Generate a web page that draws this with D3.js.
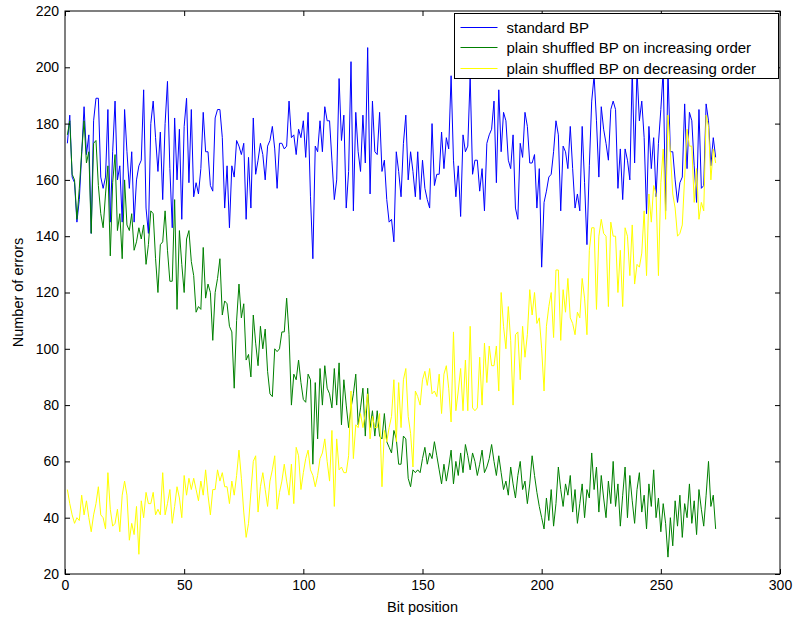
<!DOCTYPE html>
<html>
<head>
<meta charset="utf-8">
<script src="https://cdn.jsdelivr.net/npm/d3@7"></script>
<style>
  html, body { margin: 0; padding: 0; background: #fff; }
  svg { display: block; }
  text { font-family: "Liberation Sans", Arial, Helvetica, sans-serif; }
</style>
</head>
<body>
<svg id="chart" width="795" height="622"></svg>
<script>
// Error counts per bit position (positions 1..273)
const standardBP = [
  173,183,161,159,145,153,169,186,169,176,
  141,181,189,189,161,157,161,185,145,170,
  188,160,165,145,185,170,157,170,145,160,
  165,167,192,150,141,180,188,175,163,177,
  153,180,195,164,143,182,160,178,146,179,
  189,159,185,154,159,155,164,184,170,170,
  158,156,182,185,185,175,150,165,143,165,
  161,174,172,169,173,146,168,150,182,162,
  167,173,169,160,172,174,179,171,157,173,
  173,171,172,188,175,176,169,178,175,181,
  168,184,154,132,172,170,181,170,186,181,
  181,167,153,160,196,174,183,150,163,202,
  149,184,170,163,183,166,207,155,188,170,
  169,184,163,167,153,145,146,138,170,163,
  154,173,183,160,170,163,154,170,153,167,
  157,153,150,180,158,162,162,177,164,175,
  171,197,167,154,165,147,176,170,172,197,
  162,167,167,156,164,149,173,176,178,188,
  159,192,170,184,181,167,164,176,150,146,
  173,168,184,179,166,166,169,150,164,129,
  152,156,161,162,170,181,176,149,172,170,
  164,179,164,150,155,149,179,159,137,165,
  188,197,181,161,186,178,173,167,185,188,
  185,157,171,153,171,167,160,199,166,199,
  181,188,175,148,179,164,175,154,173,185,
  199,149,199,170,170,160,152,159,161,187,
  164,184,181,165,152,185,157,158,187,181,
  165,175,168
];

const shuffledIncreasing = [
  176,181,162,160,146,157,170,181,166,170,
  141,173,174,158,148,143,155,165,133,159,
  169,142,148,132,160,144,142,148,135,138,
  143,139,144,130,137,149,148,132,120,137,
  138,149,135,124,124,153,114,142,130,120,
  139,142,131,126,113,115,114,136,118,123,
  120,103,120,125,132,112,117,116,108,106,
  86,110,123,111,116,96,98,90,112,102,
  94,108,100,107,92,84,83,100,99,100,
  106,106,118,105,80,91,89,96,88,82,
  81,91,89,59,88,68,93,80,94,86,
  84,79,93,80,95,73,89,80,72,79,
  84,91,73,79,86,69,86,72,78,69,
  78,69,68,77,67,65,63,71,68,59,
  59,69,68,54,51,57,56,57,56,61,
  65,59,63,61,67,62,57,52,59,53,
  58,64,52,60,55,63,56,66,62,57,
  63,60,55,59,64,56,58,61,66,60,
  55,62,56,50,53,48,58,52,47,55,
  60,50,53,45,52,62,55,49,44,40,
  36,47,39,50,37,45,58,50,44,52,
  48,55,42,50,38,45,52,40,50,47,
  63,50,58,42,55,47,40,53,45,60,
  44,52,37,48,58,40,55,46,38,50,
  56,42,48,36,52,44,57,40,47,35,
  45,38,26,40,30,46,37,48,33,45,
  40,52,38,46,34,50,43,37,48,60,
  44,48,36
];

const shuffledDecreasing = [
  50,45,41,38,40,39,48,41,46,40,
  35,41,45,51,41,40,36,56,43,37,
  38,43,35,48,53,48,32,38,34,44,
  27,46,40,49,45,45,49,41,43,41,
  56,41,45,50,38,44,51,47,40,55,
  48,54,50,54,50,46,53,48,57,48,
  41,50,50,57,53,56,51,51,45,53,
  48,55,64,54,42,33,38,49,60,62,
  42,51,56,50,44,53,57,62,43,49,
  53,59,53,48,59,45,65,62,50,56,
  61,64,57,55,51,55,61,63,68,60,
  53,71,44,68,57,58,56,56,62,85,
  61,73,72,77,72,77,84,68,76,72,
  72,77,51,71,67,72,76,89,67,88,
  72,89,93,76,70,58,85,83,80,89,
  92,87,93,84,85,83,91,77,91,94,
  86,74,106,78,85,93,78,96,78,108,
  79,78,79,97,80,102,88,101,94,94,
  101,85,120,108,100,115,103,80,105,106,
  89,108,97,105,121,112,120,109,111,100,
  85,108,115,120,104,128,128,103,121,113,
  125,111,109,105,113,111,125,118,105,135,
  143,143,114,140,146,141,140,115,145,140,
  140,120,135,115,143,140,126,144,123,130,
  129,134,149,126,155,145,158,155,126,159,
  171,146,183,170,155,150,140,141,144,161,
  178,172,172,152,164,146,152,149,183,179,
  160,171,166
];

const seriesNames = [
  "standard BP",
  "plain shuffled BP on increasing order",
  "plain shuffled BP on decreasing order"
];
const seriesColors = ["#0000ff", "#008000", "#ffff00"];

const xTicks = [0, 50, 100, 150, 200, 250, 300];
const yTicks = [20, 40, 60, 80, 100, 120, 140, 160, 180, 200, 220];

const svg = d3.select("#chart");
const W = 795, H = 622;
svg.append("rect").attr("width", W).attr("height", H).attr("fill", "#fff");

const plotLeft = 65, plotRight = 780, plotTop = 11, plotBottom = 574;
const x = d3.scaleLinear().domain([0, 300]).range([plotLeft, plotRight]);
const y = d3.scaleLinear().domain([20, 220]).range([plotBottom, plotTop]);

const positions = d3.range(1, standardBP.length + 1);
const allSeries = [standardBP, shuffledIncreasing, shuffledDecreasing];

// Data lines, drawn in legend order
const line = d3.line()
  .x((d, i) => x(positions[i]))
  .y(d => y(d));

const plot = svg.append("g");
allSeries.forEach((vals, si) => {
  plot.append("path")
    .datum(vals)
    .attr("fill", "none")
    .attr("stroke", seriesColors[si])
    .attr("stroke-width", 1)
    .attr("stroke-linejoin", "miter")
    .attr("d", line);
});

// Axes with inward ticks on all four sides
const tickLen = 5;
const axisStyle = g => {
  g.select(".domain").remove();
  g.selectAll(".tick line").attr("stroke", "#000");
  g.selectAll(".tick text")
    .attr("fill", "#000")
    .style("font-size", "14px");
};

svg.append("g")
  .attr("transform", `translate(0,${plotBottom})`)
  .call(d3.axisBottom(x).tickValues(xTicks).tickFormat(d3.format("d"))
    .tickSizeInner(-tickLen).tickSizeOuter(0).tickPadding(6))
  .call(axisStyle);

svg.append("g")
  .attr("transform", `translate(0,${plotTop})`)
  .call(d3.axisTop(x).tickValues(xTicks).tickFormat("")
    .tickSizeInner(-tickLen).tickSizeOuter(0))
  .call(axisStyle);

svg.append("g")
  .attr("transform", `translate(${plotLeft},0)`)
  .call(d3.axisLeft(y).tickValues(yTicks).tickFormat(d3.format("d"))
    .tickSizeInner(-tickLen).tickSizeOuter(0).tickPadding(6))
  .call(axisStyle);

svg.append("g")
  .attr("transform", `translate(${plotRight},0)`)
  .call(d3.axisRight(y).tickValues(yTicks).tickFormat("")
    .tickSizeInner(-tickLen).tickSizeOuter(0))
  .call(axisStyle);

// Plot frame
svg.append("rect")
  .attr("x", plotLeft).attr("y", plotTop)
  .attr("width", plotRight - plotLeft).attr("height", plotBottom - plotTop)
  .attr("fill", "none").attr("stroke", "#000").attr("stroke-width", 1);

// Axis titles
svg.append("text")
  .attr("x", (plotLeft + plotRight) / 2).attr("y", 612)
  .attr("text-anchor", "middle")
  .style("font-size", "14.5px")
  .text("Bit position");

svg.append("text")
  .attr("transform", `translate(23,${(plotTop + plotBottom) / 2}) rotate(-90)`)
  .attr("text-anchor", "middle")
  .style("font-size", "14.5px")
  .text("Number of errors");

// Legend
const legend = svg.append("g");
const lgX = 454.5, lgY = 13.5, lgW = 324, lgH = 65;
legend.append("rect")
  .attr("x", lgX).attr("y", lgY).attr("width", lgW).attr("height", lgH)
  .attr("fill", "#fff").attr("stroke", "#000").attr("stroke-width", 1);

seriesNames.forEach((name, i) => {
  const ry = Math.round(lgY + 13 + i * 20.5) + 0.5;
  legend.append("line")
    .attr("x1", lgX + 6).attr("x2", lgX + 43)
    .attr("y1", ry).attr("y2", ry)
    .attr("stroke", seriesColors[i]).attr("stroke-width", 1);
  legend.append("text")
    .attr("x", lgX + 52).attr("y", ry + 5)
    .style("font-size", "15px")
    .text(name);
});
</script>
</body>
</html>
